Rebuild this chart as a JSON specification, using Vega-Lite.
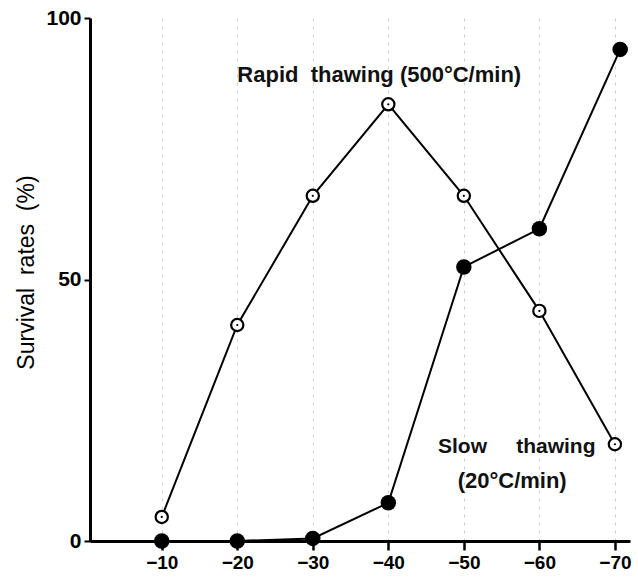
{
  "$schema": "https://vega.github.io/schema/vega-lite/v6.json",
  "autosize": "none",
  "width": 540,
  "height": 523,
  "padding": {"left": 90, "top": 18, "right": 8, "bottom": 43},
  "background": "white",
  "config": {
    "view": {"stroke": null},
    "font": "Liberation Sans"
  },
  "datasets": {
    "pts": [
      {"t": -10, "v": 4.6, "series": "Rapid"},
      {"t": -20, "v": 41.3, "series": "Rapid"},
      {"t": -30, "v": 66, "series": "Rapid"},
      {"t": -40, "v": 83.5, "series": "Rapid"},
      {"t": -50, "v": 66, "series": "Rapid"},
      {"t": -60, "v": 44, "series": "Rapid"},
      {"t": -70, "v": 18.5, "series": "Rapid"},
      {"t": -10, "v": 0, "series": "Slow"},
      {"t": -20, "v": 0, "series": "Slow"},
      {"t": -30, "v": 0.5, "series": "Slow"},
      {"t": -40, "v": 7.3, "series": "Slow"},
      {"t": -50, "v": 52.4, "series": "Slow"},
      {"t": -60, "v": 59.7, "series": "Slow"},
      {"t": -70.7, "v": 94, "series": "Slow"}
    ],
    "labels": [
      {"t": -38.8, "v": 89.1, "label": "Rapid\u00a0\u00a0thawing\u00a0(500°C/min)", "size": 22},
      {"t": -57.0, "v": 18, "label": "Slow\u00a0\u00a0\u00a0\u00a0\u00a0thawing", "size": 21},
      {"t": -56.4, "v": 11.5, "label": "(20°C/min)", "size": 22}
    ]
  },
  "layer": [
    {
      "data": {"name": "pts"},
      "mark": {"type": "line", "color": "black", "strokeWidth": 2},
      "encoding": {
        "x": {
          "field": "t", "type": "quantitative",
          "scale": {"domain": [-0.5, -72], "nice": false, "zero": false},
          "axis": {
            "values": [-10, -20, -30, -40, -50, -60, -70],
            "title": null,
            "domainColor": "black", "domainWidth": 3,
            "tickColor": "black", "tickWidth": 2.5, "tickSize": 9,
            "labelFont": "Liberation Sans", "labelFontSize": 19, "labelFontWeight": "bold",
            "labelColor": "black", "labelPadding": 3,
            "grid": true, "gridColor": "#c4c4c4", "gridDash": [3, 5], "gridWidth": 0.8
          }
        },
        "y": {
          "field": "v", "type": "quantitative",
          "scale": {"domain": [0, 100], "nice": false},
          "axis": {
            "values": [0, 50, 100],
            "title": "Survival\u00a0\u00a0rates\u00a0\u00a0(%)",
            "titleFont": "Liberation Sans", "titleFontSize": 23, "titleFontWeight": "normal",
            "titleColor": "black", "titlePadding": 7, "titleY": 254,
            "domainColor": "black", "domainWidth": 3,
            "tickColor": "black", "tickWidth": 2, "tickSize": 6,
            "labelFont": "Liberation Sans", "labelFontSize": 21, "labelFontWeight": "bold",
            "labelColor": "black", "labelPadding": 3,
            "grid": false
          }
        },
        "detail": {"field": "series"}
      }
    },
    {
      "data": {"name": "pts"},
      "transform": [{"filter": "datum.series === 'Slow'"}],
      "mark": {"type": "point", "shape": "circle", "filled": true, "color": "black", "size": 240, "opacity": 1},
      "encoding": {
        "x": {"field": "t", "type": "quantitative"},
        "y": {"field": "v", "type": "quantitative"}
      }
    },
    {
      "data": {"name": "pts"},
      "transform": [{"filter": "datum.series === 'Rapid'"}],
      "mark": {"type": "point", "shape": "circle", "fill": "white", "stroke": "black", "strokeWidth": 2.2, "size": 150, "opacity": 1, "fillOpacity": 1},
      "encoding": {
        "x": {"field": "t", "type": "quantitative"},
        "y": {"field": "v", "type": "quantitative"}
      }
    },
    {
      "data": {"name": "pts"},
      "transform": [{"filter": "datum.series === 'Rapid'"}],
      "mark": {"type": "point", "shape": "circle", "filled": true, "color": "black", "size": 5, "opacity": 1},
      "encoding": {
        "x": {"field": "t", "type": "quantitative"},
        "y": {"field": "v", "type": "quantitative"}
      }
    },
    {
      "data": {"name": "labels"},
      "mark": {"type": "text", "font": "Liberation Sans", "fontWeight": "bold", "color": "#111", "align": "center", "baseline": "middle"},
      "encoding": {
        "x": {"field": "t", "type": "quantitative"},
        "y": {"field": "v", "type": "quantitative"},
        "text": {"field": "label"},
        "size": {"field": "size", "type": "quantitative", "scale": null}
      }
    }
  ]
}
